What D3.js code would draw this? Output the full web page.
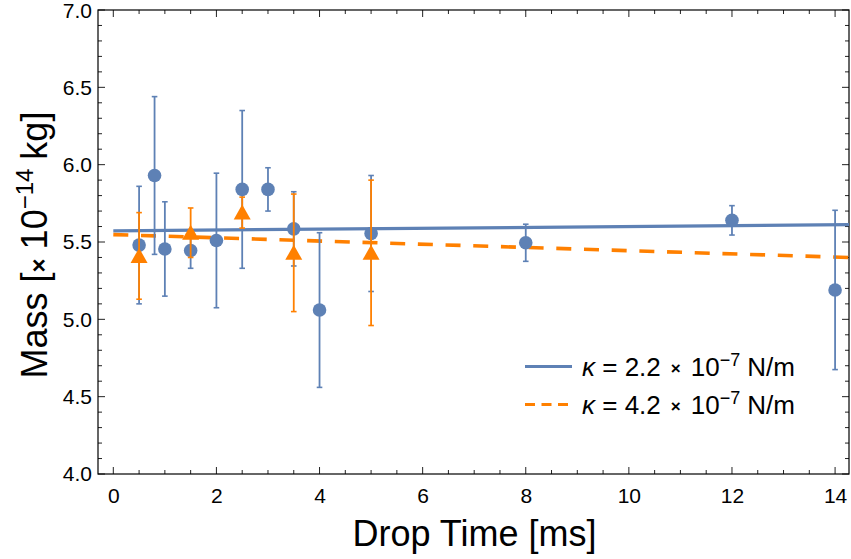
<!DOCTYPE html>
<html>
<head>
<meta charset="utf-8">
<script src="https://cdn.jsdelivr.net/npm/d3@7"></script>
<style>
  html, body { margin: 0; padding: 0; background: #fff; }
  svg { display: block; font-family: "Liberation Sans", Arial, sans-serif; }
</style>
</head>
<body>
<svg id="chart" width="851" height="559"></svg>
<script>
// ---- data ----
const blueTimes  = [0.5, 0.8, 1.0, 1.5, 2.0, 2.5, 3.0, 3.5, 4.0, 5.0, 8.0, 12.0, 14.0];
const blueMass   = [5.48, 5.93, 5.455, 5.445, 5.51, 5.84, 5.84, 5.585, 5.06, 5.555, 5.495, 5.64, 5.19];
const blueErr    = [0.38, 0.51, 0.305, 0.115, 0.435, 0.51, 0.14, 0.24, 0.50, 0.375, 0.12, 0.095, 0.515];
const orangeTimes = [0.5, 1.5, 2.5, 3.5, 5.0];
const orangeMass  = [5.41, 5.56, 5.69, 5.43, 5.43];
const orangeErr   = [0.28, 0.16, 0.10, 0.38, 0.47];
// linear fits: [intercept, slope]
const blueFit   = [5.572, 0.0028];
const orangeFit = [5.548, -0.0104];
const xTicks = [0, 2, 4, 6, 8, 10, 12, 14];
const yTicks = [4.0, 4.5, 5.0, 5.5, 6.0, 6.5, 7.0];
const legendLabels = ["2.2", "4.2"];

// ---- layout ----
const L = 98, R = 849, T = 10, B = 474;
const blue = "#5E81B5", orange = "#FF8000";
const svg = d3.select("#chart");
const x = d3.scaleLinear().domain([-0.297, 14.27]).range([L, R]);
const y = d3.scaleLinear().domain([4, 7]).range([B, T]);

svg.append("defs").append("clipPath").attr("id", "clip")
  .append("rect").attr("x", L).attr("y", T).attr("width", R - L).attr("height", B - T);

const xMinor = d3.range(0, 14.3, 0.5);
const yMinor = d3.range(40, 71, 1).map(d => d / 10);
function isMajorX(v) { return Math.abs(v / 2 - Math.round(v / 2)) < 1e-6; }
function isMajorY(v) { return Math.abs(v * 2 - Math.round(v * 2)) < 1e-6; }

const axes = svg.append("g").attr("class", "axes");

// tick marks (inward, all four sides)
const tickG = axes.append("g").attr("stroke", "#222").attr("stroke-width", 1);
xMinor.forEach(v => {
  const len = isMajorX(v) ? 7 : 4;
  tickG.append("line").attr("x1", x(v)).attr("x2", x(v)).attr("y1", B).attr("y2", B - len);
  tickG.append("line").attr("x1", x(v)).attr("x2", x(v)).attr("y1", T).attr("y2", T + len);
});
yMinor.forEach(v => {
  const len = isMajorY(v) ? 7 : 4;
  tickG.append("line").attr("x1", L).attr("x2", L + len).attr("y1", y(v)).attr("y2", y(v));
  tickG.append("line").attr("x1", R).attr("x2", R - len).attr("y1", y(v)).attr("y2", y(v));
});

const gx = axes.append("g").attr("transform", `translate(0,${B})`)
  .call(d3.axisBottom(x).tickValues(xTicks).tickSize(0).tickPadding(14).tickFormat(d3.format("d")));
gx.select(".domain").remove();
gx.selectAll("text").attr("font-size", 21).attr("fill", "#000").attr("font-family", "Liberation Sans, Arial, sans-serif");

const gy = axes.append("g").attr("transform", `translate(${L},0)`)
  .call(d3.axisLeft(y).tickValues(yTicks).tickSize(0).tickPadding(6).tickFormat(d3.format(".1f")));
gy.select(".domain").remove();
gy.selectAll("text").attr("font-size", 21).attr("fill", "#000").attr("font-family", "Liberation Sans, Arial, sans-serif");
gy.selectAll(".tick").filter(d => d === 7.0).select("text").attr("dy", "0.36em");

axes.append("rect").attr("x", L).attr("y", T).attr("width", R - L).attr("height", B - T)
  .attr("fill", "none").attr("stroke", "#000").attr("stroke-width", 1.2);

// titles
svg.append("text").attr("x", (L + R) / 2 + 1).attr("y", 546).attr("text-anchor", "middle")
  .attr("font-size", 36).attr("fill", "#000").text("Drop Time [ms]");

const yt = svg.append("text").attr("transform", "translate(47,245) rotate(-90)")
  .attr("text-anchor", "middle").attr("font-size", 36).attr("fill", "#000");
yt.append("tspan").text("Mass [");
yt.append("tspan").attr("font-size", 24).attr("font-weight", "bold").text("×");
yt.append("tspan").attr("dx", 9).text("10");
yt.append("tspan").attr("font-size", 24).attr("dy", -14).text("−14");
yt.append("tspan").attr("dy", 14).attr("dx", 9).text("kg]");

const plot = svg.append("g").attr("clip-path", "url(#clip)");

function fitLine(fit) {
  const xs = [0, 14.27];
  return xs.map(t => [t, fit[0] + fit[1] * t]);
}
const line = d3.line().x(d => x(d[0])).y(d => y(d[1]));
plot.append("path").datum(fitLine(blueFit)).attr("d", line)
  .attr("fill", "none").attr("stroke", blue).attr("stroke-width", 3.2);
plot.append("path").datum(fitLine(orangeFit)).attr("d", line)
  .attr("fill", "none").attr("stroke", orange).attr("stroke-width", 3.6)
  .attr("stroke-dasharray", "15,12.7");

function drawSeries(times, mass, err, color, marker) {
  const g = plot.append("g");
  const data = times.map((t, i) => ({ t, m: mass[i], e: err[i] }));
  g.selectAll("line.eb").data(data).enter().append("line")
    .attr("x1", d => x(d.t)).attr("x2", d => x(d.t))
    .attr("y1", d => y(d.m - d.e)).attr("y2", d => y(d.m + d.e))
    .attr("stroke", color).attr("stroke-width", 1.8);
  [-1, 1].forEach(s => {
    g.selectAll(null).data(data).enter().append("line")
      .attr("x1", d => x(d.t) - 2.8).attr("x2", d => x(d.t) + 2.8)
      .attr("y1", d => y(d.m + s * d.e)).attr("y2", d => y(d.m + s * d.e))
      .attr("stroke", color).attr("stroke-width", 1.6);
  });
  if (marker === "circle") {
    g.selectAll("circle").data(data).enter().append("circle")
      .attr("cx", d => x(d.t)).attr("cy", d => y(d.m)).attr("r", 6.8).attr("fill", color);
  } else {
    g.selectAll("path.tri").data(data).enter().append("path")
      .attr("d", d => {
        const cx = x(d.t), cy = y(d.m);
        return `M${cx},${cy - 8} L${cx + 8.5},${cy + 7} L${cx - 8.5},${cy + 7} Z`;
      })
      .attr("fill", color);
  }
}
drawSeries(blueTimes, blueMass, blueErr, blue, "circle");
drawSeries(orangeTimes, orangeMass, orangeErr, orange, "triangle");

// legend
const leg = svg.append("g");
const legY = [366.5, 404.5];
[blue, orange].forEach((c, i) => {
  leg.append("line").attr("x1", 525).attr("x2", 572).attr("y1", legY[i]).attr("y2", legY[i])
    .attr("stroke", c).attr("stroke-width", 3.2)
    .attr("stroke-dasharray", i === 1 ? "10,6.5" : null);
  const t = leg.append("text").attr("x", 582).attr("y", legY[i] + 9).attr("font-size", 26).attr("fill", "#000");
  t.append("tspan").attr("font-style", "italic").text("κ");
  t.append("tspan").text(" = " + legendLabels[i]);
  t.append("tspan").attr("dx", 10).attr("font-size", 17).attr("font-weight", "bold").attr("dy", -2).text("×");
  t.append("tspan").attr("dx", 10).attr("dy", 2).text("10");
  t.append("tspan").attr("font-size", 18).attr("dy", -10).text("−7");
  t.append("tspan").attr("dy", 10).attr("dx", 7).text("N/m");
});
</script>
</body>
</html>
